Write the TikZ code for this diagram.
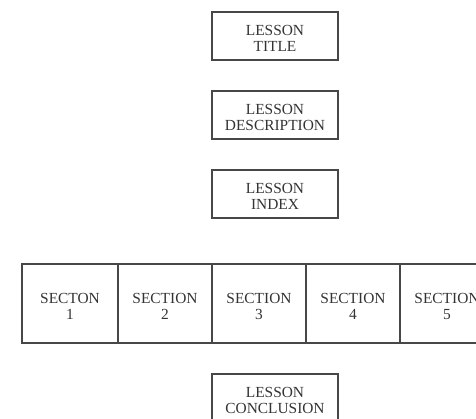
\documentclass[tikz,border=0pt]{standalone}
\usepackage{fontspec}
\setmainfont{Liberation Serif}
\begin{document}
\begin{tikzpicture}[x=1pt,y=-1pt,
  box/.style={draw=black!72, line width=1.3pt, rectangle, inner sep=0pt},
  caption/.style={align=center, text=black!80, inner sep=0pt,
    font=\fontsize{15.4}{16.5}\selectfont},
  lessonbox/.style={box, minimum width=126pt, minimum height=48pt,
    label={[caption, yshift=-2.5pt]center:#1}},
  sectbox/.style={box, minimum width=94pt, minimum height=79pt,
    label={[caption, yshift=-3pt]center:#1}}]
  \useasboundingbox (0,0) rectangle (476,418);
  \clip (0,0) rectangle (476,418);

  % lesson frame boxes
  \node[lessonbox={LESSON\\TITLE}]       (title) at (275,36)  {};
  \node[lessonbox={LESSON\\DESCRIPTION}] (desc)  at (275,115) {};
  \node[lessonbox={LESSON\\INDEX}]       (index) at (275,194) {};

  % row of sections
  \node[sectbox={SECTON\\1}, minimum width=96pt] (s1) at (70,303.5) {};
  \node[sectbox={SECTION\\2}] (s2) at (165,303.5) {};
  \node[sectbox={SECTION\\3}] (s3) at (259,303.5) {};
  \node[sectbox={SECTION\\4}] (s4) at (353,303.5) {};
  \node[sectbox={SECTION\\5}] (s5) at (447,303.5) {};

  \node[lessonbox={LESSON\\CONCLUSION}] (concl) at (275,398) {};
\end{tikzpicture}
\end{document}
